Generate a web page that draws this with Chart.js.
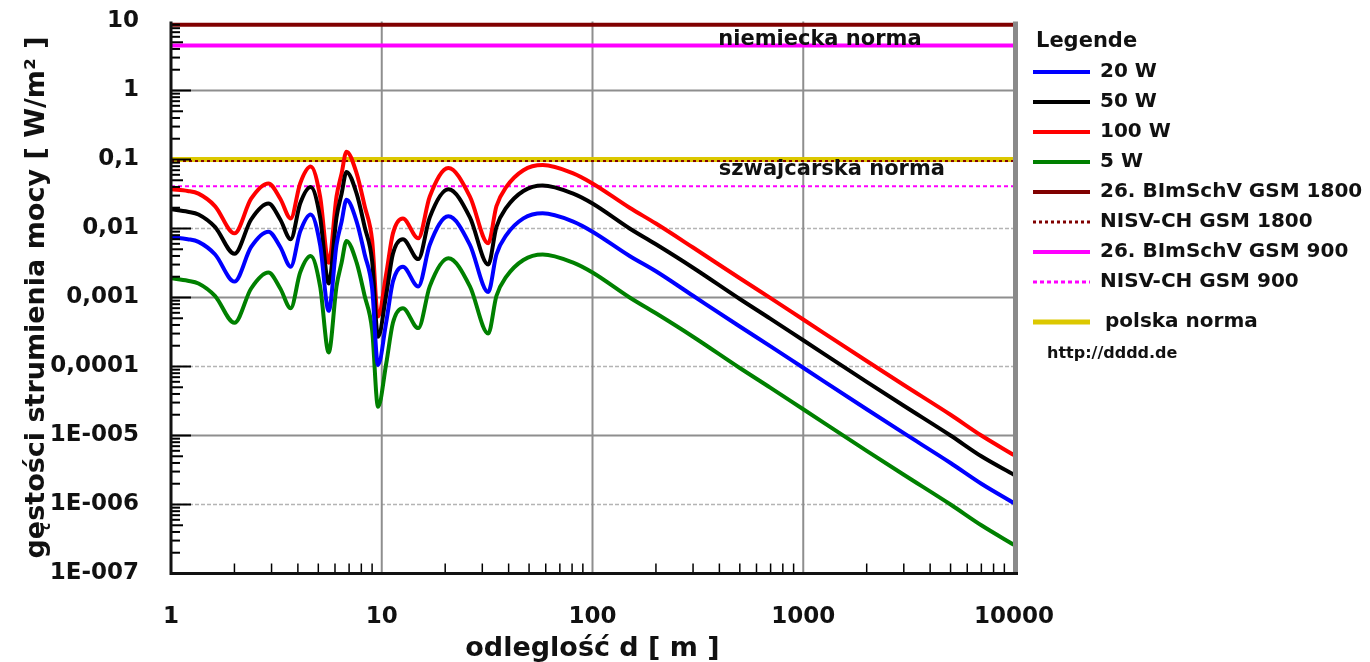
<!DOCTYPE html>
<html>
<head>
<meta charset="utf-8">
<title>gęstość strumienia mocy</title>
<script src="https://cdn.jsdelivr.net/npm/chart.js@4.4.1/dist/chart.umd.min.js"></script>
<style>
  html, body { margin: 0; padding: 0; background: #fff; }
  #wrap { width: 1370px; height: 662px; }
</style>
</head>
<body>
<div id="wrap"><canvas id="fieldChart" width="1370" height="662"></canvas></div>
<script>
const distances = [1, 1.2, 1.35, 1.62, 2.0, 2.4, 2.9, 3.3, 3.7, 4.1, 4.6, 5.1, 5.6, 6.1, 6.45, 6.8, 7.6, 8.3, 9.0, 9.6,
  10.5, 11.3, 12.6, 14.9, 16.9, 20.7, 26.2, 32, 35, 39, 47, 58, 81, 100, 150, 200, 300, 500, 700,
  1000, 2000, 3000, 5000, 7000, 10000];

// Power density [W/m2] for each transmitter power
const w20 = [0.0075, 0.007, 0.0064, 0.0042, 0.0017, 0.0054, 0.009, 0.0054, 0.0028, 0.009,
  0.016, 0.0058, 0.00064, 0.0058, 0.0126, 0.026, 0.0126, 0.0042, 0.00136, 0.000105,
  0.00044, 0.0017, 0.0028, 0.00144, 0.0058, 0.015, 0.0058, 0.0012, 0.0042, 0.008,
  0.014, 0.0166, 0.0126, 0.009, 0.004, 0.0024, 0.00106, 0.00038, 0.000196, 0.000096,
  2.4e-5, 1.08e-5, 4e-6, 2e-6, 1.05e-6];
const w50 = [0.019, 0.0175, 0.016, 0.0105, 0.0043, 0.0135, 0.023, 0.0135, 0.007, 0.023,
  0.04, 0.0145, 0.0016, 0.0145, 0.032, 0.066, 0.032, 0.0105, 0.0034, 0.00027,
  0.0011, 0.0043, 0.007, 0.0036, 0.0145, 0.037, 0.0145, 0.003, 0.0105, 0.02,
  0.035, 0.042, 0.032, 0.023, 0.01, 0.0059, 0.0027, 0.00095, 0.00049, 0.00024,
  6e-5, 2.7e-5, 1e-5, 5e-6, 2.7e-6];
const w100 = [0.037, 0.035, 0.032, 0.021, 0.0085, 0.027, 0.045, 0.027, 0.014, 0.045,
  0.079, 0.029, 0.0032, 0.029, 0.063, 0.13, 0.063, 0.021, 0.0068, 0.00053,
  0.0022, 0.0085, 0.014, 0.0072, 0.029, 0.075, 0.029, 0.0061, 0.021, 0.040,
  0.070, 0.083, 0.063, 0.045, 0.02, 0.0118, 0.0053, 0.0019, 0.00098, 0.00048,
  0.00012, 5.4e-5, 2e-5, 1e-5, 5.2e-6];
const w5 = [0.0019, 0.00175, 0.0016, 0.00105, 0.00043, 0.00135, 0.0023, 0.00135, 0.0007, 0.0023,
  0.004, 0.00145, 0.00016, 0.00145, 0.0032, 0.0066, 0.0032, 0.00105, 0.00034, 0.000026,
  0.00011, 0.00043, 0.0007, 0.00036, 0.00145, 0.0037, 0.00145, 0.0003, 0.00105, 0.002,
  0.0035, 0.0042, 0.0032, 0.0023, 0.001, 0.00059, 0.00027, 0.000095, 0.000049, 0.000024,
  6e-6, 2.7e-6, 1e-6, 5e-7, 2.6e-7];

// Limit values [W/m2]
const limitRange = [1, 10000];
const bimschv1800 = 9;
const nisv1800 = 0.095;
const bimschv900 = 4.5;
const nisv900 = 0.041;
const polishLimit = 0.1;

// Axis ticks
const xTicks = [1, 10, 100, 1000, 10000];
const xLabels = ['1', '10', '100', '1000', '10000'];
const yTicks = [1e-7, 1e-6, 1e-5, 1e-4, 1e-3, 1e-2, 1e-1, 1, 10];
const yLabels = ['1E-007', '1E-006', '1E-005', '0,0001', '0,001', '0,01', '0,1', '1', '10'];
const dashedGrid = [1e-6, 1e-4, 1e-2];

const FONT = '"DejaVu Sans", "Liberation Sans", Arial, sans-serif';

// Build {x, y} points from a series
function toPoints(values) {
  return values.map((v, i) => ({ x: distances[i], y: v }));
}

function limitLine(value) {
  return limitRange.map((d) => ({ x: d, y: value }));
}

function curve(label, values, color) {
  return {
    label: label,
    data: toPoints(values),
    borderColor: color,
    borderWidth: 4,
    pointRadius: 0,
    cubicInterpolationMode: 'monotone',
  };
}

function limit(label, value, color, width, dash) {
  return {
    label: label,
    data: limitLine(value),
    borderColor: color,
    borderWidth: width,
    borderDash: dash,
    pointRadius: 0,
  };
}

// Grid, frame, minor ticks, notes and legend are drawn here
const framePlugin = {
  id: 'framePlugin',
  beforeDatasetsDraw(chart) {
    const { ctx, chartArea: area, scales: { x, y } } = chart;
    ctx.save();
    // horizontal grid lines
    yTicks.forEach((v) => {
      if (v <= yTicks[0] || v >= yTicks[yTicks.length - 1]) return;
      const py = y.getPixelForValue(v);
      const dashed = dashedGrid.includes(v);
      ctx.strokeStyle = dashed ? '#b4b4b4' : '#8e8e8e';
      ctx.lineWidth = dashed ? 1.5 : 2;
      ctx.setLineDash(dashed ? [4, 2] : []);
      ctx.beginPath();
      ctx.moveTo(area.left, py);
      ctx.lineTo(area.right, py);
      ctx.stroke();
    });
    // vertical grid lines
    ctx.setLineDash([]);
    ctx.strokeStyle = '#8e8e8e';
    ctx.lineWidth = 2;
    xTicks.slice(1, -1).forEach((v) => {
      const px = x.getPixelForValue(v);
      ctx.beginPath();
      ctx.moveTo(px, area.top);
      ctx.lineTo(px, area.bottom);
      ctx.stroke();
    });
    ctx.restore();
  },
  afterDatasetsDraw(chart) {
    const { ctx, chartArea: area, scales: { x, y } } = chart;
    ctx.save();
    ctx.strokeStyle = '#000';
    ctx.lineWidth = 2;
    // y minor / major ticks on the inside of the left axis
    yTicks.forEach((v, i) => {
      const py = y.getPixelForValue(v);
      if (i > 0 && i < yTicks.length - 1) {
        ctx.beginPath();
        ctx.moveTo(area.left, py);
        ctx.lineTo(area.left + 20, py);
        ctx.stroke();
      }
      if (i === yTicks.length - 1) return;
      for (let k = 2; k <= 9; k++) {
        const pm = y.getPixelForValue(v * k);
        ctx.beginPath();
        ctx.moveTo(area.left, pm);
        ctx.lineTo(area.left + (k === 5 ? 12 : 9), pm);
        ctx.stroke();
      }
    });
    // x minor ticks on the inside of the bottom axis
    ctx.lineWidth = 1.5;
    xTicks.slice(0, -1).forEach((v) => {
      for (let k = 2; k <= 9; k++) {
        const pm = x.getPixelForValue(v * k);
        ctx.beginPath();
        ctx.moveTo(pm, area.bottom);
        ctx.lineTo(pm, area.bottom - 10);
        ctx.stroke();
      }
    });
    // frame
    ctx.strokeStyle = '#8a8a8a';
    ctx.lineWidth = 5;
    ctx.beginPath();
    ctx.moveTo(area.right + 1.5, area.top);
    ctx.lineTo(area.right + 1.5, area.bottom);
    ctx.stroke();
    ctx.strokeStyle = '#111';
    ctx.lineWidth = 3;
    ctx.beginPath();
    ctx.moveTo(area.left, area.top);
    ctx.lineTo(area.left, area.bottom);
    ctx.lineTo(area.right + 4, area.bottom);
    ctx.stroke();

    // notes on the limit lines
    ctx.fillStyle = '#111';
    ctx.font = 'bold 21px ' + FONT;
    ctx.textAlign = 'center';
    ctx.textBaseline = 'middle';
    ctx.fillText('niemiecka norma', x.getPixelForValue(1200), y.getPixelForValue(5.4));
    ctx.fillText('szwajcarska norma', x.getPixelForValue(1368), y.getPixelForValue(0.0705));
    ctx.restore();
  },
  afterDraw(chart) {
    const { ctx, chartArea: area } = chart;
    const lineX = area.right + 19;
    ctx.save();
    ctx.fillStyle = '#111';
    ctx.textBaseline = 'middle';
    ctx.textAlign = 'left';
    ctx.font = 'bold 21px ' + FONT;
    ctx.fillText('Legende', lineX + 3, 42);
    ctx.font = 'bold 20px ' + FONT;
    chart.data.datasets.forEach((ds, i) => {
      const rowY = i < 8 ? 72 + i * 30 : 322;
      ctx.strokeStyle = ds.borderColor;
      ctx.lineWidth = Math.max(ds.borderWidth, 3);
      ctx.setLineDash(ds.borderDash || []);
      ctx.beginPath();
      ctx.moveTo(lineX, rowY);
      ctx.lineTo(lineX + 57, rowY);
      ctx.stroke();
      ctx.fillText(ds.label, lineX + (i < 8 ? 67 : 72), rowY);
    });
    ctx.setLineDash([]);
    ctx.font = 'bold 16px ' + FONT;
    ctx.fillText('http://dddd.de', lineX + 14, 354);
    ctx.restore();
  },
};

const datasets = [
  curve('20 W', w20, '#0000ff'),
  curve('50 W', w50, '#000000'),
  curve('100 W', w100, '#ff0000'),
  curve('5 W', w5, '#008000'),
  limit('26. BImSchV GSM 1800', bimschv1800, '#800000', 4, []),
  limit('NISV-CH GSM 1800', nisv1800, '#800000', 2, [3, 3]),
  limit('26. BImSchV GSM 900', bimschv900, '#ff00ff', 4, []),
  limit('NISV-CH GSM 900', nisv900, '#ff00ff', 2, [4, 3]),
  limit('polska norma', polishLimit, '#dcc800', 5, []),
];

const chart = new Chart(document.getElementById('fieldChart'), {
  type: 'line',
  data: { datasets: datasets },
  options: {
    responsive: false,
    animation: false,
    devicePixelRatio: 1,
    layout: { padding: { left: 0, right: 356, top: 21.5, bottom: 0 } },
    plugins: {
      legend: { display: false },
      tooltip: { enabled: false },
    },
    scales: {
      x: {
        type: 'logarithmic',
        min: 1,
        max: 10000,
        afterFit: (scale) => {
          scale.height = 88.5;
          scale.paddingLeft = 0;
          scale.paddingRight = 0;
        },
        afterBuildTicks: (scale) => { scale.ticks = xTicks.map((v) => ({ value: v })); },
        grid: { display: false },
        border: { display: false },
        ticks: {
          autoSkip: false,
          maxRotation: 0,
          padding: 22,
          color: '#111',
          font: { family: FONT, size: 23, weight: 'bold' },
          callback: (value, index) => xLabels[index],
        },
        title: {
          display: true,
          text: 'odleglość d [ m ]',
          color: '#111',
          font: { family: FONT, size: 27, weight: 'bold', lineHeight: 1 },
          padding: { top: 0, bottom: 0 },
        },
      },
      y: {
        type: 'logarithmic',
        min: 1e-7,
        max: 10,
        afterFit: (scale) => {
          scale.width = 171;
          scale.paddingTop = 0;
          scale.paddingBottom = 0;
        },
        afterBuildTicks: (scale) => { scale.ticks = yTicks.map((v) => ({ value: v })); },
        grid: { display: false },
        border: { display: false },
        ticks: {
          autoSkip: false,
          padding: 24,
          color: '#111',
          font: { family: FONT, size: 23, weight: 'bold' },
          callback: (value, index) => yLabels[index],
        },
        title: {
          display: true,
          text: 'gęstości strumienia mocy [ W/m² ]',
          color: '#111',
          font: { family: FONT, size: 27, weight: 'bold', lineHeight: 1 },
          padding: { top: 23, bottom: 0 },
        },
      },
    },
  },
  plugins: [framePlugin],
});
</script>
</body>
</html>
